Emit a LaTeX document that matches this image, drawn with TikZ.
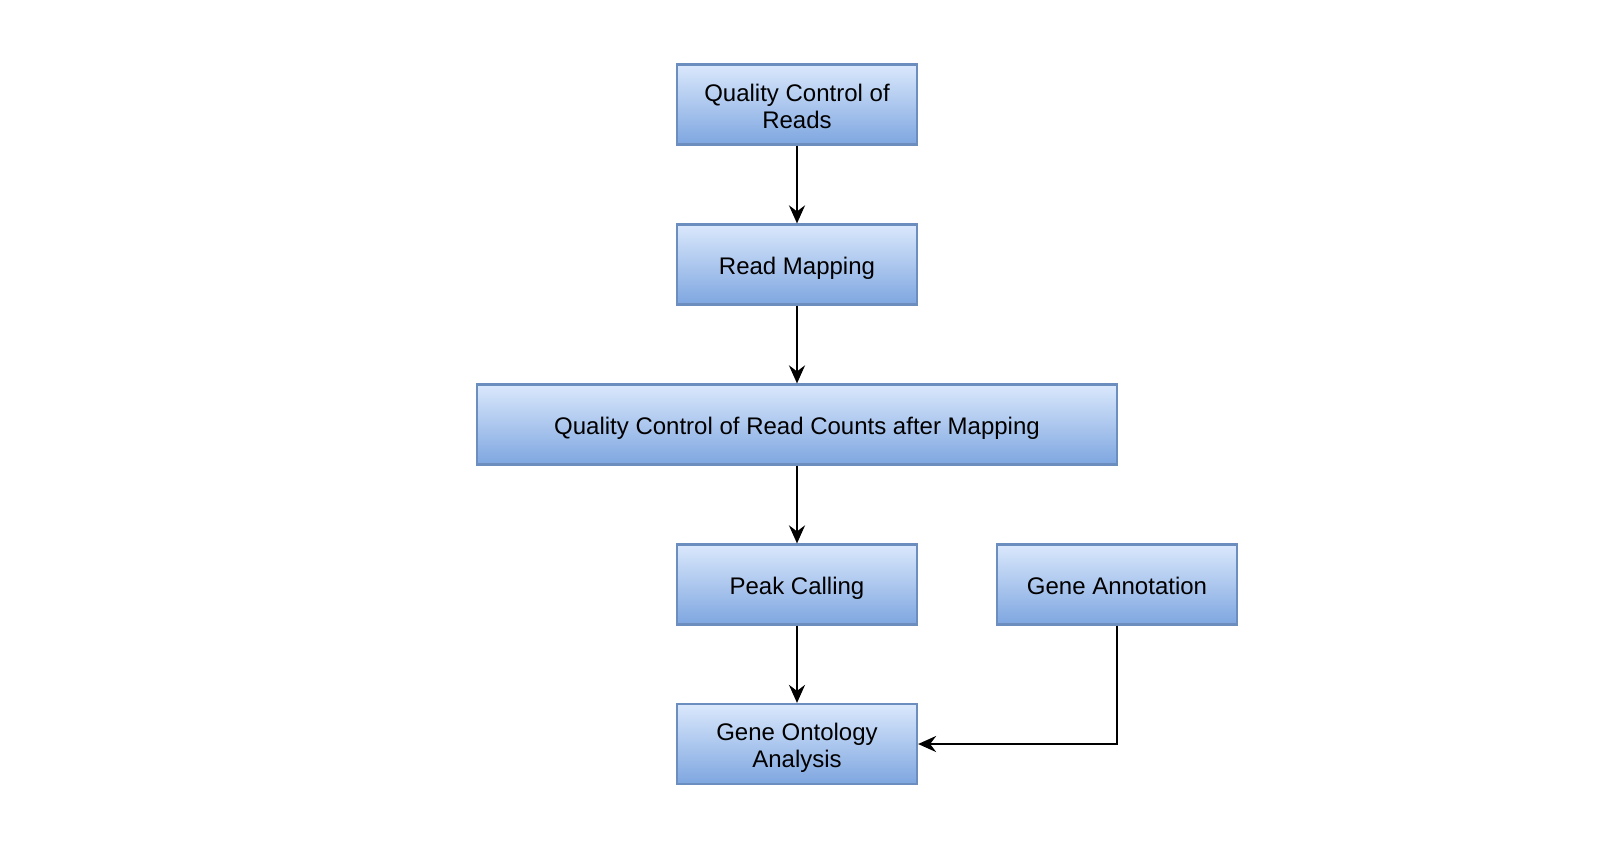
\documentclass[tikz,border=0pt]{standalone}
\usepackage{fontspec}
\setmainfont{Liberation Sans}
\usetikzlibrary{arrows.meta}
\definecolor{boxtop}{HTML}{DAE8FC}
\definecolor{boxbot}{HTML}{7EA6E0}
\definecolor{boxline}{HTML}{6C8EBF}
\newcommand{\mytopstrut}{\rule{0pt}{13pt}}
\newcommand{\mybotstrut}{\rule[-3pt]{0pt}{3pt}}
\tikzset{
  stepbox/.style={draw=boxline, line width=1.1pt, top color=boxtop, bottom color=boxbot,
    minimum width=120pt, minimum height=40pt, inner sep=0pt, align=center,
    font=\fontsize{12}{13.5}\selectfont, text=black},
  flow/.style={line width=1.25pt, -{Stealth[length=9pt,width=8pt,inset=3pt]}}
}
\begin{document}
\begin{tikzpicture}[x=0.5pt,y=-0.5pt]
\useasboundingbox (0,0) rectangle (1624,848);
\node[stepbox] (qc) at (797,104.5) {\mytopstrut Quality Control of\\Reads\mybotstrut};
\node[stepbox] (rm) at (797,264.5) {\mytopstrut Read Mapping\mybotstrut};
\node[stepbox, minimum width=320pt] (qcc) at (797,424.5) {\mytopstrut Quality Control of Read Counts after Mapping\mybotstrut};
\node[stepbox] (pc) at (797,584.5) {\mytopstrut Peak Calling\mybotstrut};
\node[stepbox] (ga) at (1117,584.5) {\mytopstrut Gene Annotation\mybotstrut};
\node[stepbox] (go) at (797,744) {\mytopstrut Gene Ontology\\Analysis\mybotstrut};
\draw[flow] (qc) -- (rm);
\draw[flow] (rm) -- (qcc);
\draw[flow] (qcc) -- (pc);
\draw[flow] (pc) -- (go);
\draw[flow] (ga.south) |- (go.east);
\end{tikzpicture}
\end{document}
